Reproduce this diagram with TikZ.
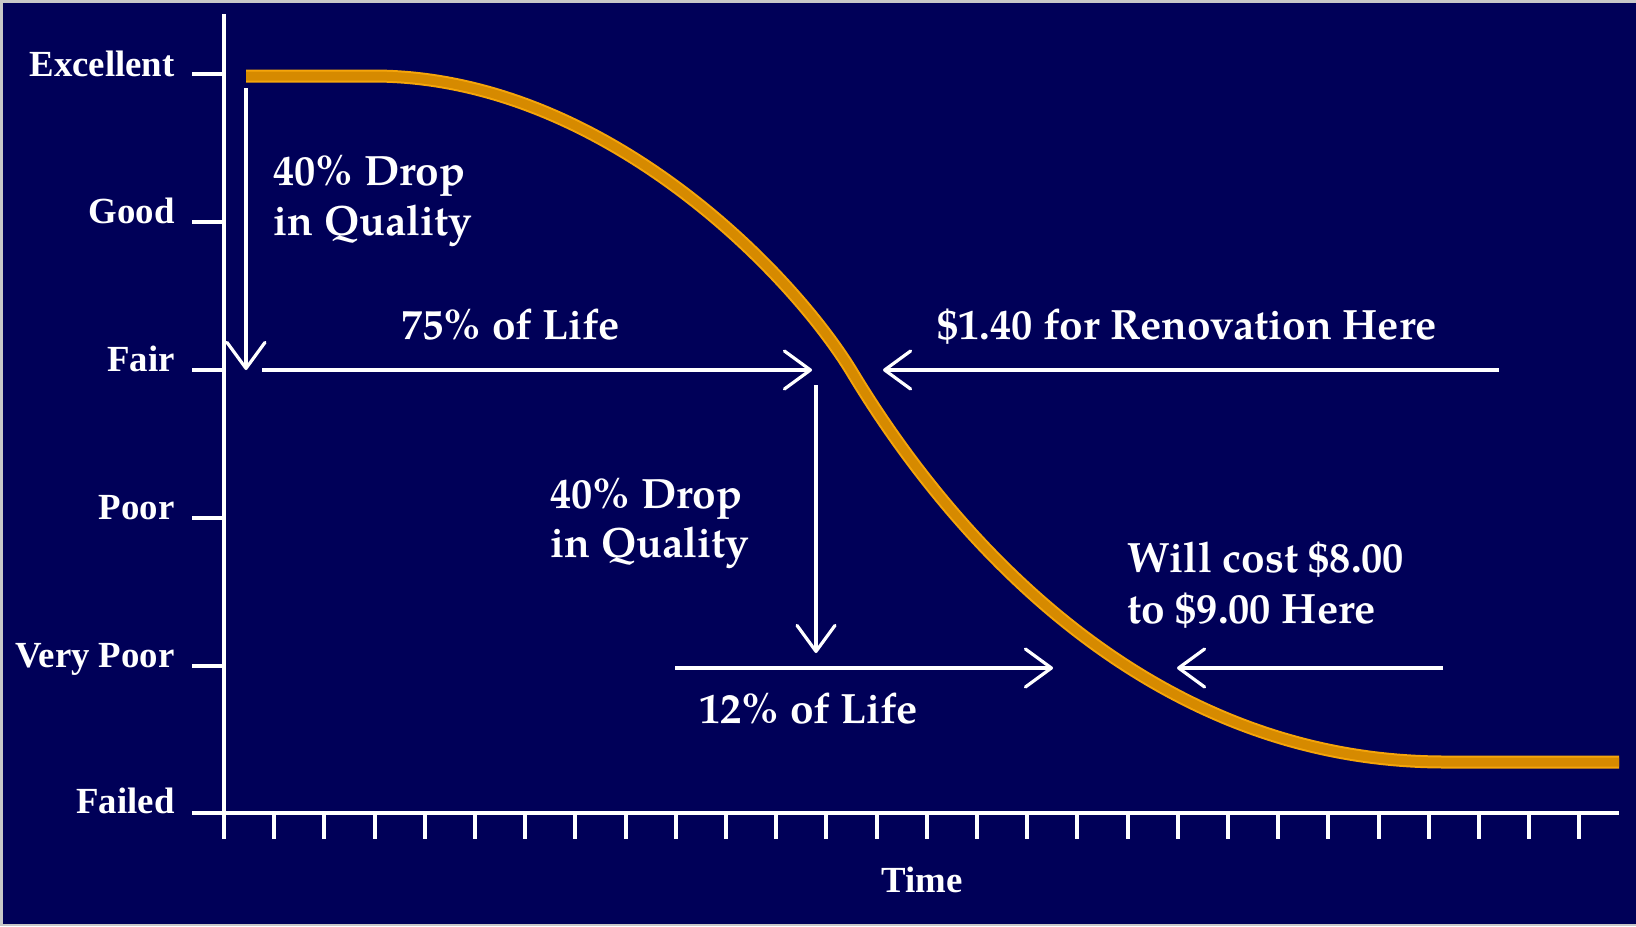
\documentclass[tikz,border=0pt]{standalone}
\usepackage{fontspec}
\setmainfont{Liberation Serif}
\newfontfamily\palfont{texgyrepagella}[Extension=.otf, UprightFont=*-regular, BoldFont=*-bold]
\usetikzlibrary{arrows.meta}
\definecolor{navy}{RGB}{0,0,88}
\definecolor{framegrey}{RGB}{200,200,200}
\definecolor{curveout}{RGB}{245,165,10}
\definecolor{curvein}{RGB}{214,138,0}
\begin{document}
\begin{tikzpicture}[x=0.5pt, y=-0.5pt,
  axislbl/.style={font=\fontsize{18.4}{20}\selectfont\bfseries, text=white, inner sep=0pt, anchor=base east},
  timelbl/.style={font=\fontsize{18.4}{20}\selectfont\bfseries, text=white, inner sep=0pt, anchor=base},
  annot/.style={font=\palfont\bfseries\fontsize{21.2}{25}\selectfont, text=white, inner sep=0pt, anchor=base west},
  axisline/.style={white, line width=2.4pt},
  tickline/.style={white, line width=2pt},
  arr/.style={white, line width=1.6pt, -{Straight Barb[length=13pt, width=19pt, line cap=round, line join=round]}},
  lifecurve/.style={curvein, line width=4.5pt, preaction={draw=curveout, line width=6.5pt}},
]
\fill[framegrey] (0,0) rectangle (1636,926);
\fill[navy] (3,3) rectangle (1636,924);
\useasboundingbox (0,0) rectangle (1636,926);

% axes
\coordinate (ytop) at (224,14);
\coordinate (ybot) at (224,839);
\coordinate (xl) at (192,813);
\coordinate (xr) at (1619,813);
\draw[axisline] (ytop) -- (ybot);
\draw[axisline] (xl) -- (xr);
\foreach \k in {1,...,27} \draw[tickline] (224+50.2*\k,813) -- (224+50.2*\k,839);
\foreach \yy in {74,222,370,518,666} \draw[tickline] (192,\yy) -- (224,\yy);

% axis labels
\node[axislbl] (lexc) at (175,76) {Excellent};
\node[axislbl] (lgood) at (175,223) {Good};
\node[axislbl] (lfair) at (175,371) {Fair};
\node[axislbl] (lpoor) at (175,519) {Poor};
\node[axislbl] (lvpoor) at (175,667) {Very Poor};
\node[axislbl] (lfail) at (175,813) {Failed};
\node[timelbl] (ltime) at (922,892) {Time};

% curve
\coordinate (c0) at (246,76);
\coordinate (c1) at (373,76);
\coordinate (c2) at (852,372);
\coordinate (c3) at (1445,762);
\coordinate (c4) at (1619,762);
\draw[lifecurve] (c0) -- (c1) .. controls (600,76) and (790,270) .. (c2)
  .. controls (935,510) and (1130,762) .. (c3) -- (c4);

% arrows
\coordinate (a1s) at (246,88);   \coordinate (a1e) at (246,370);
\coordinate (a2s) at (262,370);  \coordinate (a2e) at (812,370);
\coordinate (a3s) at (1499,370); \coordinate (a3e) at (883,370);
\coordinate (a4s) at (816,385);  \coordinate (a4e) at (816,653);
\coordinate (a5s) at (675,668);  \coordinate (a5e) at (1053,668);
\coordinate (a6s) at (1443,668); \coordinate (a6e) at (1177,668);
\draw[arr] (a1s) -- (a1e);
\draw[arr] (a2s) -- (a2e);
\draw[arr] (a3s) -- (a3e);
\draw[arr] (a4s) -- (a4e);
\draw[arr] (a5s) -- (a5e);
\draw[arr] (a6s) -- (a6e);

% annotations
\node[annot] (d1a) at (273,185) {40\% Drop};
\node[annot] (d1b) at (273,235) {in Quality};
\node[annot] (life75) at (401,339) {75\% of Life};
\node[annot] (reno) at (937,339) {\$1.40 for Renovation Here};
\node[annot] (d2a) at (550,508) {40\% Drop};
\node[annot] (d2b) at (550,557) {in Quality};
\node[annot] (life12) at (699,723) {12\% of Life};
\node[annot] (cost1) at (1127,572) {Will cost \$8.00};
\node[annot] (cost2) at (1127,623) {to \$9.00 Here};
\end{tikzpicture}
\end{document}
